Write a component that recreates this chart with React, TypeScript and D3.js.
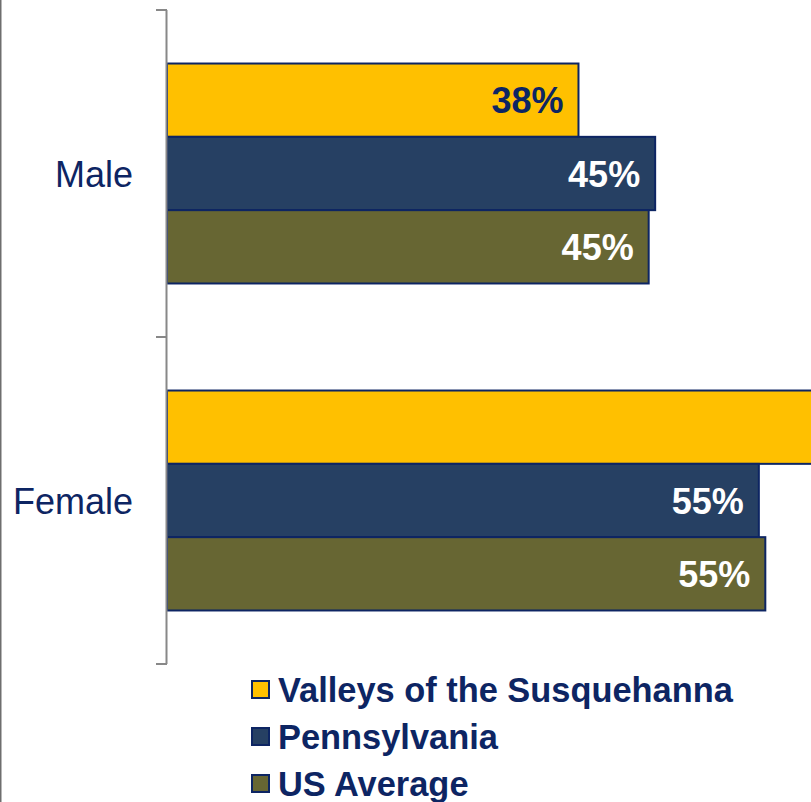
import * as d3 from "d3";

const categories = ["Male", "Female"];
const seriesNames = ["Valleys of the Susquehanna", "Pennsylvania", "US Average"];
const valleys = [38.1, 61.9];
const pennsylvania = [45.2, 54.8];
const usAverage = [44.6, 55.4];
const valueLabels = [
  ["38%", "62%"],
  ["45%", "55%"],
  ["45%", "55%"],
];

const colors = ["#FFC000", "#264063", "#676633"];
const labelColors = ["#0d2563", "#ffffff", "#ffffff"];
const navy = "#0d2563";
const font = "'Liberation Sans', Arial, sans-serif";

export default function App() {
  const width = 811;
  const height = 802;
  const series = [valleys, pennsylvania, usAverage];

  const x = d3.scaleLinear().domain([0, 60]).range([167, 815]);
  const y = d3.scaleBand().domain(categories).range([10, 664]);
  const inner = d3.scaleBand()
    .domain(seriesNames)
    .range([0, y.bandwidth()])
    .paddingInner(0)
    .paddingOuter(0.73);

  return (
    <svg width={width} height={height} style={{ position: "absolute", left: 0, top: 0, background: "#fff" }}>
      <line x1={0.75} x2={0.75} y1={0} y2={height} stroke="#6e6e6e" strokeWidth={1.5} />

      {categories.map((c, ci) =>
        series.map((vals, si) => {
          const by = (y(c) ?? 0) + (inner(seriesNames[si]) ?? 0);
          const bh = inner.bandwidth();
          const end = x(vals[ci]);
          return (
            <g key={c + si}>
              <rect
                x={x(0)}
                y={by}
                width={end - x(0)}
                height={bh}
                fill={colors[si]}
                stroke={navy}
                strokeWidth={2}
              />
              {/* bar running past the plot edge: its label falls outside the view */}
              {end <= width && (
                <text
                  x={end - 15}
                  y={by + bh / 2 + 13}
                  textAnchor="end"
                  fontFamily={font}
                  fontWeight={700}
                  fontSize={36}
                  fill={labelColors[si]}
                >
                  {valueLabels[si][ci]}
                </text>
              )}
            </g>
          );
        })
      )}

      {/* category axis */}
      <line x1={166.5} x2={166.5} y1={y.range()[0]} y2={y.range()[1]} stroke="#888" strokeWidth={2} />
      {[...categories.map(c => y(c) ?? 0), y.range()[1]].map((t, i) => (
        <line key={i} x1={156} x2={167} y1={t} y2={t} stroke="#888" strokeWidth={2} />
      ))}
      {categories.map(c => (
        <text
          key={c}
          x={133}
          y={(y(c) ?? 0) + y.bandwidth() / 2 + 13}
          textAnchor="end"
          fontFamily={font}
          fontSize={36}
          fill={navy}
        >
          {c}
        </text>
      ))}

      {/* legend */}
      {seriesNames.map((s, i) => {
        const base = 702 + i * 47;
        return (
          <g key={s}>
            <rect x={252} y={base - 21} width={17} height={17} fill={colors[i]} stroke={navy} strokeWidth={2} />
            <text x={278} y={base} fontFamily={font} fontWeight={700} fontSize={34.4} fill={navy}>
              {s}
            </text>
          </g>
        );
      })}
    </svg>
  );
}
